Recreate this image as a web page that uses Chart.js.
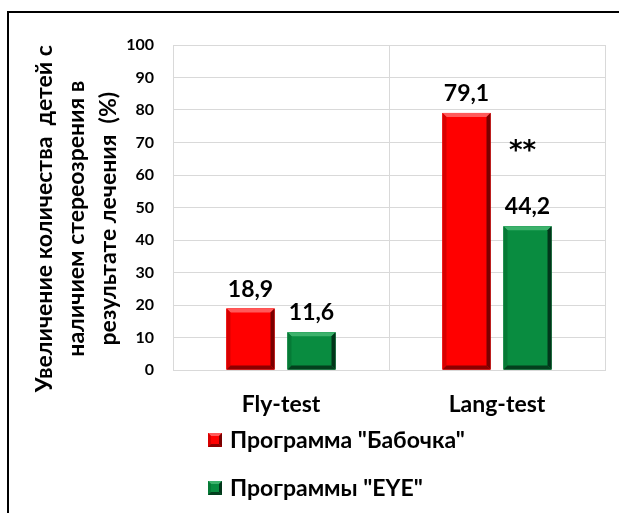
<!DOCTYPE html>
<html>
<head>
<meta charset="utf-8">
<script src="https://cdn.jsdelivr.net/npm/chart.js@4.4.1/dist/chart.umd.min.js"></script>
<style>
  html, body { margin: 0; padding: 0; background: #ffffff; }
  #wrap { width: 619px; height: 513px; }
</style>
</head>
<body>
<div id="wrap"><canvas id="c" width="619" height="513"></canvas></div>
<script>
// ---- data ----
const categories = ['Fly-test', 'Lang-test'];
const seriesNames = ['Программа "Бабочка"', 'Программы "EYE"'];
const butterflyValues = [18.9, 79.1];
const eyeValues = [11.6, 44.2];
const yMin = 0;
const yMax = 100;
const yStep = 10;
const yTitleLines = ['Увеличение количества  детей с', 'наличием стереозрения в', 'результате лечения  (%)'];
const significanceMark = '**';
const significanceCategory = 1;
const significanceValue = 69;

// ---- styles ----
const FONT = 'Lato, "Open Sans", "Liberation Sans", sans-serif';
const palette = [
  { fill: '#ff0000', light: '#ff5a5a', left: '#d80000', right: '#7a0000', bottom: '#8c0000' },
  { fill: '#098c40', light: '#3db26c', left: '#067a36', right: '#02351a', bottom: '#033f1d' }
];
const TITLE_PAD = '\u00A0\u00A0\u00A0\u00A0'; // nudges the centred axis title slightly downward

function fmt(v) { return v.toFixed(1).replace('.', ','); }

function bevelRect(ctx, l, t, r, b, s, c) {
  ctx.save();
  ctx.fillStyle = c.fill;
  ctx.fillRect(l, t, r - l, b - t);
  const poly = (pts, col) => {
    ctx.beginPath();
    ctx.moveTo(pts[0][0], pts[0][1]);
    for (let i = 1; i < pts.length; i++) ctx.lineTo(pts[i][0], pts[i][1]);
    ctx.closePath();
    ctx.fillStyle = col;
    ctx.fill();
  };
  poly([[l, t], [r, t], [r - s, t + s], [l + s, t + s]], c.light);
  poly([[l, t], [l + s, t + s], [l + s, b - s], [l, b]], c.left);
  poly([[r, t], [r, b], [r - s, b - s], [r - s, t + s]], c.right);
  poly([[l, b], [l + s, b - s], [r - s, b - s], [r, b]], c.bottom);
  ctx.restore();
}

const bevelPlugin = {
  id: 'bevel',
  afterDatasetsDraw(chart) {
    const ctx = chart.ctx;
    chart.data.datasets.forEach((ds, i) => {
      const meta = chart.getDatasetMeta(i);
      meta.data.forEach((el) => {
        const p = el.getProps(['x', 'y', 'base', 'width'], true);
        const l = p.x - p.width / 2, r = p.x + p.width / 2;
        const t = Math.min(p.y, p.base), b = Math.max(p.y, p.base);
        bevelRect(ctx, l, t, r, b, 4, palette[i]);
      });
    });
  }
};

const labelsPlugin = {
  id: 'valueLabels',
  afterDatasetsDraw(chart) {
    const ctx = chart.ctx;
    ctx.save();
    ctx.font = 'bold 23px ' + FONT;
    ctx.fillStyle = '#000';
    ctx.textAlign = 'center';
    ctx.textBaseline = 'alphabetic';
    chart.data.datasets.forEach((ds, i) => {
      const meta = chart.getDatasetMeta(i);
      meta.data.forEach((el, j) => {
        ctx.fillText(fmt(ds.data[j]), el.x, el.y - 12);
      });
    });
    // significance mark
    const ys = chart.scales.y;
    const el = chart.getDatasetMeta(1).data[significanceCategory];
    ctx.font = 'bold 26px "DejaVu Sans", sans-serif';
    ctx.textBaseline = 'middle';
    ctx.fillText(significanceMark, el.x - 5, ys.getPixelForValue(significanceValue) + 6);
    ctx.restore();
  }
};

const legendFramePlugin = {
  id: 'legendFrame',
  afterDraw(chart) {
    const ctx = chart.ctx;
    ctx.save();
    // frame
    ctx.strokeStyle = '#000';
    ctx.lineWidth = 2;
    ctx.beginPath();
    ctx.moveTo(8, 513);
    ctx.lineTo(8, 12);
    ctx.lineTo(619, 12);
    ctx.stroke();
    // legend
    const rows = [440, 488];
    ctx.font = 'bold 23px ' + FONT;
    ctx.textAlign = 'left';
    ctx.textBaseline = 'middle';
    chart.data.datasets.forEach((ds, i) => {
      const cy = rows[i];
      bevelRect(ctx, 208, cy - 7, 222, cy + 7, 3, palette[i]);
      ctx.fillStyle = '#000';
      ctx.fillText(ds.label, 230, cy + 1);
    });
    ctx.restore();
  }
};

new Chart(document.getElementById('c'), {
  type: 'bar',
  data: {
    labels: categories,
    datasets: [
      { label: seriesNames[0], data: butterflyValues, backgroundColor: palette[0].fill, borderWidth: 0 },
      { label: seriesNames[1], data: eyeValues, backgroundColor: palette[1].fill, borderWidth: 0 }
    ]
  },
  options: {
    responsive: false,
    animation: false,
    devicePixelRatio: 1,
    categoryPercentage: 0.565,
    barPercentage: 0.787,
    layout: { padding: { left: 0, top: 45, right: 14, bottom: 0 } },
    plugins: { legend: { display: false }, tooltip: { enabled: false } },
    scales: {
      x: {
        offset: true,
        grid: { offset: true, color: '#d9d9d9', lineWidth: 1, drawTicks: false },
        border: { color: '#d9d9d9' },
        ticks: { color: '#000', font: { family: FONT, size: 23, weight: 'bold' }, padding: 21 },
        afterFit(s) { s.height = 143; }
      },
      y: {
        min: yMin, max: yMax,
        grid: { color: '#d9d9d9', lineWidth: 1, drawTicks: false },
        border: { color: '#d9d9d9' },
        ticks: { stepSize: yStep, color: '#000', font: { family: FONT, size: 16, weight: 'bold' }, padding: 19 },
        title: {
          display: true,
          text: yTitleLines.map(t => t + TITLE_PAD),
          color: '#000',
          font: { family: FONT, size: 23, weight: 'bold', lineHeight: 1.39 },
          padding: { top: 29, bottom: 0 }
        },
        afterFit(s) { s.width = 173; }
      }
    }
  },
  plugins: [bevelPlugin, labelsPlugin, legendFramePlugin]
});
</script>
</body>
</html>
